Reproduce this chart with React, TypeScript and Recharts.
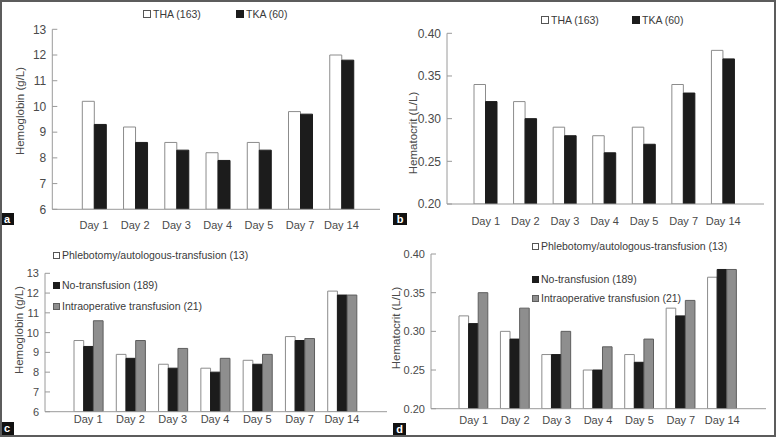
import React from 'react';
import { BarChart, Bar, XAxis, YAxis, Legend, Label } from 'recharts';

const days = ['Day 1', 'Day 2', 'Day 3', 'Day 4', 'Day 5', 'Day 7', 'Day 14'];

const hbTHA = [10.2, 9.2, 8.6, 8.2, 8.6, 9.8, 12.0];
const hbTKA = [9.3, 8.6, 8.3, 7.9, 8.3, 9.7, 11.8];
const hctTHA = [0.34, 0.32, 0.29, 0.28, 0.29, 0.34, 0.38];
const hctTKA = [0.32, 0.30, 0.28, 0.26, 0.27, 0.33, 0.37];

const hbPhleb = [9.6, 8.9, 8.4, 8.2, 8.6, 9.8, 12.1];
const hbNo = [9.3, 8.7, 8.2, 8.0, 8.4, 9.6, 11.9];
const hbIntra = [10.6, 9.6, 9.2, 8.7, 8.9, 9.7, 11.9];
const hctPhleb = [0.32, 0.30, 0.27, 0.25, 0.27, 0.33, 0.37];
const hctNo = [0.31, 0.29, 0.27, 0.25, 0.26, 0.32, 0.38];
const hctIntra = [0.35, 0.33, 0.30, 0.28, 0.29, 0.34, 0.38];

const hbTicks = [6, 7, 8, 9, 10, 11, 12, 13];
const hctTicks = [0.2, 0.25, 0.3, 0.35, 0.4];

const surgeryNames = ['THA (163)', 'TKA (60)'];
const transfusionNames = [
  'Phlebotomy/autologous-transfusion (13)',
  'No-transfusion (189)',
  'Intraoperative transfusion (21)',
];
const hbLabel = 'Hemoglobin (g/L)';
const hctLabel = 'Hematocrit (L/L)';
const panelLetters = ['a', 'b', 'c', 'd'];

const FONT = "Arial, 'Liberation Sans', sans-serif";
const AXIS = '#9a9a9a';
const TXT = '#4a4a4a';

const STYLE_WHITE = { fill: '#ffffff', stroke: '#8c8c8c' };
const STYLE_BLACK = { fill: '#1c1c1c', stroke: '#1c1c1c' };
const STYLE_GRAY = { fill: '#8e8e8e', stroke: '#5e5e5e' };

const twoData = (a: number[], b: number[]) =>
  days.map((d, i) => ({ day: d, s0: a[i], s1: b[i] }));
const threeData = (a: number[], b: number[], c: number[]) =>
  days.map((d, i) => ({ day: d, s0: a[i], s1: b[i], s2: c[i] }));

type Pos = { x: number; y: number };

function makeLegend(names: string[], styles: any[], pos: Pos[], sq: number) {
  return () => (
    <div style={{ position: 'relative', width: '100%', height: '100%' }}>
      {names.map((n, i) => (
        <div
          key={n}
          style={{
            position: 'absolute',
            left: pos[i].x,
            top: pos[i].y - 7,
            height: 14,
            display: 'flex',
            alignItems: 'center',
            whiteSpace: 'nowrap',
            fontFamily: FONT,
            fontSize: 10.5,
            color: '#3a3a3a',
          }}
        >
          <span
            style={{
              display: 'inline-block',
              width: sq,
              height: sq,
              boxSizing: 'border-box',
              background: styles[i].fill,
              border: `1px solid ${styles[i].stroke === '#8c8c8c' ? '#555' : styles[i].stroke}`,
              marginRight: 2,
            }}
          />
          <span>{n}</span>
        </div>
      ))}
    </div>
  );
}

function yLabel(text: string, x: number, y: number) {
  return () => (
    <text
      x={x}
      y={y}
      transform={`rotate(-90 ${x} ${y})`}
      textAnchor="middle"
      dominantBaseline="central"
      fontFamily={FONT}
      fontSize={11.5}
      fill={TXT}
    >
      {text}
    </text>
  );
}

type PanelProps = {
  left: number;
  top: number;
  width: number;
  height: number;
  data: any[];
  names: string[];
  styles: any[];
  margin: any;
  yWidth: number;
  xHeight: number;
  xPad: { left: number; right: number };
  xTickMargin: number;
  domain: [number, number];
  ticks: number[];
  fmt: (v: number) => string;
  yFont: number;
  barSize: number;
  label: string;
  labelPos: Pos;
  legendPos: Pos[];
  legendSq: number;
};

function Panel(p: PanelProps) {
  return (
    <div style={{ position: 'absolute', left: p.left, top: p.top, width: p.width, height: p.height }}>
      <BarChart
        width={p.width}
        height={p.height}
        data={p.data}
        margin={p.margin}
        barGap={0}
        barSize={p.barSize}
      >
        <XAxis
          dataKey="day"
          height={p.xHeight}
          padding={p.xPad}
          tickLine={false}
          tickSize={0}
          tickMargin={p.xTickMargin}
          axisLine={{ stroke: AXIS }}
          tick={{ fill: TXT, fontSize: 11, fontFamily: FONT }}
          interval={0}
        />
        <YAxis
          width={p.yWidth}
          domain={p.domain}
          ticks={p.ticks}
          tickFormatter={p.fmt}
          tickSize={-5}
          tickMargin={11}
          axisLine={{ stroke: AXIS }}
          tickLine={{ stroke: AXIS }}
          tick={{ fill: TXT, fontSize: p.yFont, fontFamily: FONT }}
          allowDataOverflow
        >
          <Label content={yLabel(p.label, p.labelPos.x, p.labelPos.y)} />
        </YAxis>
        <Legend
          layout="horizontal"
          verticalAlign="middle"
          align="center"
          wrapperStyle={{ left: 0, top: 0, width: p.width, height: p.height, pointerEvents: 'none' }}
          content={makeLegend(p.names, p.styles, p.legendPos, p.legendSq)}
        />
        {p.names.map((n, i) => (
          <Bar
            key={n}
            dataKey={`s${i}`}
            name={n}
            fill={p.styles[i].fill}
            stroke={p.styles[i].stroke}
            strokeWidth={1}
            isAnimationActive={false}
          />
        ))}
      </BarChart>
    </div>
  );
}

const letterBox = (ch: string, left: number, top: number, w: number, h: number) => (
  <div
    key={ch}
    style={{
      position: 'absolute',
      left,
      top,
      width: w,
      height: h,
      background: '#111',
      color: '#fff',
      fontFamily: FONT,
      fontSize: 11,
      fontWeight: 'bold',
      lineHeight: `${h}px`,
      textAlign: 'center',
    }}
  >
    {ch}
  </div>
);

export default function App() {
  const hbFmt = (v: number) => String(v);
  const hctFmt = (v: number) => v.toFixed(2);
  return (
    <div
      style={{
        position: 'absolute',
        left: 0,
        top: 0,
        width: 776,
        height: 437,
        background: '#fff',
        border: '2px solid #5c5c5c',
        boxSizing: 'border-box',
        overflow: 'hidden',
      }}
    >
      <div style={{ position: 'absolute', left: -2, top: -2, width: 776, height: 437 }}>
        <Panel
          left={0}
          top={0}
          width={388}
          height={240}
          data={twoData(hbTHA, hbTKA)}
          names={surgeryNames}
          styles={[STYLE_WHITE, STYLE_BLACK]}
          margin={{ top: 29.3, right: 8, bottom: 0, left: 0 }}
          yWidth={52.3}
          xHeight={30.7}
          xPad={{ left: 21, right: 18 }}
          xTickMargin={12}
          domain={[6, 13]}
          ticks={hbTicks}
          fmt={hbFmt}
          yFont={12}
          barSize={12}
          label={hbLabel}
          labelPos={{ x: 20, y: 111 }}
          legendPos={[{ x: 143, y: 14 }, { x: 236, y: 14 }]}
          legendSq={8}
        />
        <Panel
          left={388}
          top={0}
          width={388}
          height={240}
          data={twoData(hctTHA, hctTKA)}
          names={surgeryNames}
          styles={[STYLE_WHITE, STYLE_BLACK]}
          margin={{ top: 33.3, right: 12, bottom: 0, left: 0 }}
          yWidth={59}
          xHeight={36}
          xPad={{ left: 19, right: 21 }}
          xTickMargin={13.5}
          domain={[0.2, 0.4]}
          ticks={hctTicks}
          fmt={hctFmt}
          yFont={12}
          barSize={11.5}
          label={hctLabel}
          labelPos={{ x: 24.5, y: 133 }}
          legendPos={[{ x: 153, y: 20 }, { x: 244, y: 20 }]}
          legendSq={8}
        />
        <Panel
          left={0}
          top={218}
          width={388}
          height={219}
          data={threeData(hbPhleb, hbNo, hbIntra)}
          names={transfusionNames}
          styles={[STYLE_WHITE, STYLE_BLACK, STYLE_GRAY]}
          margin={{ top: 55.3, right: 1, bottom: 0, left: 0 }}
          yWidth={45}
          xHeight={25.3}
          xPad={{ left: 22, right: 24 }}
          xTickMargin={3.5}
          domain={[6, 13]}
          ticks={hbTicks}
          fmt={hbFmt}
          yFont={11}
          barSize={9.7}
          label={hbLabel}
          labelPos={{ x: 19, y: 112 }}
          legendPos={[{ x: 53, y: 37 }, { x: 53, y: 67 }, { x: 53, y: 88 }]}
          legendSq={7}
        />
        <Panel
          left={388}
          top={218}
          width={388}
          height={219}
          data={threeData(hctPhleb, hctNo, hctIntra)}
          names={transfusionNames}
          styles={[STYLE_WHITE, STYLE_BLACK, STYLE_GRAY]}
          margin={{ top: 36, right: 10, bottom: 0, left: 0 }}
          yWidth={43}
          xHeight={28.3}
          xPad={{ left: 22, right: 23 }}
          xTickMargin={7}
          domain={[0.2, 0.4]}
          ticks={hctTicks}
          fmt={hctFmt}
          yFont={11}
          barSize={9.6}
          label={hctLabel}
          labelPos={{ x: 7.5, y: 110 }}
          legendPos={[{ x: 144, y: 28 }, { x: 144, y: 61 }, { x: 144, y: 80 }]}
          legendSq={7}
        />
        {letterBox(panelLetters[0], 0, 213, 14, 12)}
        {letterBox(panelLetters[1], 393, 213, 14, 12)}
        {letterBox(panelLetters[2], 0, 422, 14, 13)}
        {letterBox(panelLetters[3], 393, 423, 13, 13)}
      </div>
    </div>
  );
}
